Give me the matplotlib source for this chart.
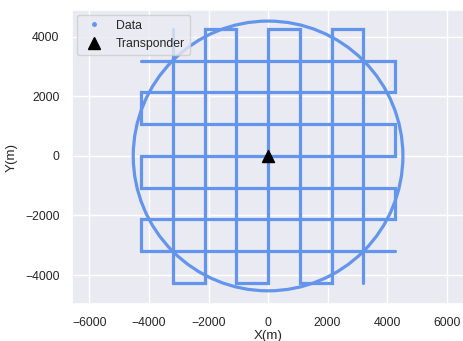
import matplotlib
matplotlib.use('Agg')
import seaborn as sns
from matplotlib import pyplot as plt
from matplotlib.patches import Circle
from matplotlib.lines import Line2D

sns.set_theme(style='darkgrid')
plt.rcParams['font.family'] = ['Liberation Sans', 'DejaVu Sans']

# east-west survey passes (corner waypoints)
ew_x = [-4267, 4267, 4267, -4267, -4267, 4267, 4267, -4267, -4267, 4267, 4267, -4267, -4267, 4267]
ew_y = [3200, 3200, 2133, 2133, 1067, 1067, 0, 0, -1067, -1067, -2133, -2133, -3200, -3200]

# north-south survey passes (corner waypoints)
ns_x = [-3200, -3200, -2133, -2133, -1067, -1067, 0, 0, 1067, 1067, 2133, 2133, 3200, 3200]
ns_y = [4267, -4267, -4267, 4267, 4267, -4267, -4267, 4267, 4267, -4267, -4267, 4267, 4267, -4267]

# circle around the transponder
circle_r = 4530

transponder_x = [0]
transponder_y = [0]

data_color = '#6495ED'

fig = plt.figure(figsize=(4.63, 3.41), dpi=100)
ax = fig.add_axes([0.1555, 0.1085, 0.847, 0.8625])

ax.plot(ew_x, ew_y, color=data_color, lw=2.3, solid_joinstyle='miter')
ax.plot(ns_x, ns_y, color=data_color, lw=2.3, solid_joinstyle='miter')
ax.add_patch(Circle((0, 0), circle_r, fill=False, edgecolor=data_color, lw=2.3))
ax.scatter(transponder_x, transponder_y, marker='^', s=75, color='black', zorder=5)

ax.set_xlim(-6588, 6588)
ax.set_ylim(-4973, 4906)
ax.set_xticks([-6000, -4000, -2000, 0, 2000, 4000, 6000])
ax.set_yticks([-4000, -2000, 0, 2000, 4000])
ax.tick_params(labelsize=8.8, pad=3)
ax.set_xlabel('X(m)', fontsize=9.6, labelpad=1)
ax.set_ylabel('Y(m)', fontsize=9.6, labelpad=5)

handles = [
    Line2D([], [], marker='o', ls='', ms=2.5, color=data_color),
    Line2D([], [], marker='^', ls='', ms=9, color='black'),
]
ax.legend(handles, ['Data', 'Transponder'], loc='upper left', fontsize=8.8,
          borderaxespad=0.4, handletextpad=0.8)

plt.savefig('out.png', dpi=100)
